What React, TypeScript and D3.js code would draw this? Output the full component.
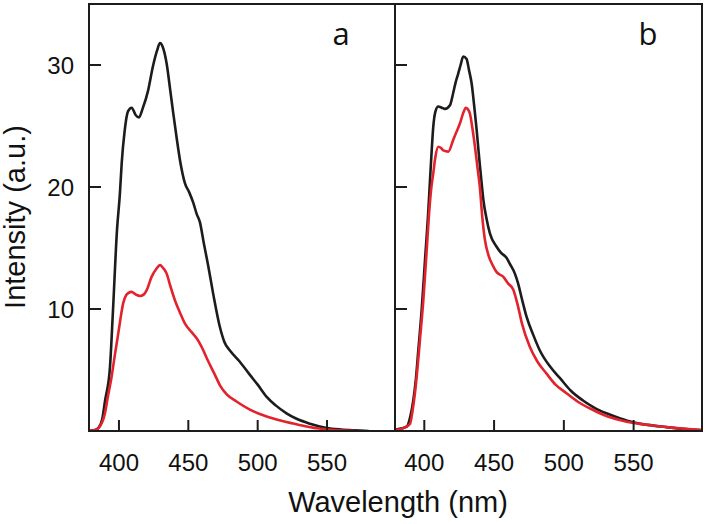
import React from "react";
import * as d3 from "d3";

// Panel a, black curve
const aBlackNm = [378, 382, 385.5, 388, 390, 393.5, 395.7, 398.6, 400.7, 402, 404, 406.5, 409.2, 412, 414.4, 417, 421, 424.5, 427.5, 429.6, 431.5, 434.4, 437, 439.2, 441.5, 444, 447.6, 450.5, 453.6, 456, 458.4, 461, 464.4, 468, 472.8, 476, 480, 487, 494.4, 500, 506.5, 513, 520.8, 528, 537.7, 549.7, 560, 570, 580];
const aBlackVal = [0, 0.05, 0.3, 1.0, 2.5, 5.2, 9.9, 16.5, 19.5, 22, 24.5, 26.2, 26.5, 25.9, 25.7, 26.4, 27.9, 29.9, 31.2, 31.8, 31.5, 30.1, 27.9, 26.0, 24.1, 22.2, 20.3, 19.6, 18.7, 17.8, 17.1, 15.5, 13.5, 11.2, 8.5, 7.3, 6.6, 5.7, 4.6, 3.8, 2.8, 2.1, 1.45, 1.0, 0.6, 0.25, 0.12, 0.05, 0];

// Panel a, red curve
const aRedNm = [378, 382, 385, 389.9, 392, 394.7, 397, 399.5, 401.5, 403.1, 405, 406.7, 409.1, 412, 415.1, 418, 420, 423.6, 427, 429.6, 431.5, 434.4, 437, 440.4, 444, 447.6, 452.4, 456, 459.6, 464, 469.2, 473, 477.7, 485, 494.4, 505, 518.5, 530, 542.5, 555, 571];
const aRedVal = [0, 0.05, 0.2, 1.45, 2.8, 4.45, 6.2, 8.0, 9.5, 10.5, 11.1, 11.3, 11.4, 11.2, 11.07, 11.2, 11.56, 12.65, 13.3, 13.6, 13.4, 12.9, 11.9, 10.7, 9.7, 8.8, 8.1, 7.6, 6.9, 5.8, 4.6, 3.7, 3.0, 2.4, 1.75, 1.25, 0.8, 0.5, 0.22, 0.08, 0];

// Panel b, black curve
const bBlackNm = [379, 383, 387.4, 390, 392.1, 394, 395.7, 398.1, 400.5, 402.9, 404.1, 405.3, 406.4, 408, 410, 412.5, 414.8, 418.4, 420.7, 422.5, 424.3, 426, 427.9, 430.3, 432, 433.9, 435.7, 437.5, 439.3, 441.1, 442.5, 444.6, 447, 451.8, 455, 458.9, 461.3, 464.9, 467.2, 470, 473.2, 478, 482.8, 490, 497.1, 505, 513.7, 522, 530.5, 540, 549.5, 560, 573.4, 585, 599];
const bBlackVal = [0.1, 0.2, 0.35, 1.2, 2.5, 4.3, 6.6, 9.9, 14, 18.1, 20.6, 23, 24.9, 26.2, 26.6, 26.5, 26.4, 26.7, 27.7, 28.6, 29.3, 30.0, 30.7, 30.5, 29.6, 28.5, 26.7, 24.7, 22.4, 20.3, 18.8, 17.4, 16.2, 15.1, 14.6, 14.2, 13.7, 12.9, 12.1, 10.8, 9.4, 7.9, 6.6, 5.3, 4.35, 3.3, 2.5, 1.9, 1.45, 1.05, 0.72, 0.5, 0.32, 0.18, 0.05];

// Panel b, red curve
const bRedNm = [379, 383, 386, 389.8, 391.5, 393.3, 395, 396.9, 399.3, 401.7, 403.6, 404.9, 406.4, 408, 410, 412, 413.6, 417.2, 420.7, 423, 425.5, 428, 429.8, 431, 432.7, 434.5, 436.3, 438, 439.8, 441.5, 443.4, 446, 449.4, 452, 456.5, 460, 463.7, 467.2, 470, 475.6, 481, 487.6, 494, 501.9, 510, 521, 530, 540, 550, 561.5, 575, 587, 599];
const bRedVal = [0.1, 0.15, 0.3, 0.6, 1.6, 3.1, 5.0, 7.5, 10.7, 14.8, 18.1, 19.8, 21.1, 22.5, 23.3, 23.2, 23.0, 22.9, 23.85, 24.5, 25.2, 26.1, 26.5, 26.4, 26.0, 24.8, 23.3, 21.7, 20.0, 17.6, 15.7, 14.4, 13.5, 13.0, 12.65, 12.1, 11.6, 10.2, 8.8, 6.9, 5.7, 4.7, 3.8, 3.1, 2.4, 1.72, 1.25, 0.9, 0.65, 0.48, 0.3, 0.18, 0.08];

const xTicks = [400, 450, 500, 550];
const yTicks = [10, 20, 30];
const panelLabels = ["a", "b"];

const W = 706;
const H = 524;
const TOP = 4;
const BOTTOM = 431;
const FONT = "'Liberation Sans', Arial, Helvetica, sans-serif";
const BLACK = "#1c1c1c";
const RED = "#e3232c";

const y = d3.scaleLinear().domain([0, 35]).range([BOTTOM, TOP]);

type Panel = {
  left: number;
  right: number;
  domain: [number, number];
  black: [number[], number[]];
  red: [number[], number[]];
  label: string;
  showYLabels: boolean;
};

const panels: Panel[] = [
  { left: 89, right: 395, domain: [378.4, 599], black: [aBlackNm, aBlackVal], red: [aRedNm, aRedVal], label: panelLabels[0], showYLabels: true },
  { left: 395, right: 702, domain: [379, 599], black: [bBlackNm, bBlackVal], red: [bRedNm, bRedVal], label: panelLabels[1], showYLabels: false },
];

function PanelView({ p, idx }: { p: Panel; idx: number }) {
  const x = d3.scaleLinear().domain(p.domain).range([p.left, p.right]);
  const line = d3
    .line<[number, number]>()
    .x((d) => x(d[0]))
    .y((d) => y(d[1]))
    .curve(d3.curveMonotoneX);
  const pts = (s: [number[], number[]]) => s[0].map((v, i) => [v, s[1][i]] as [number, number]);
  const clipId = `clip-${idx}`;
  return (
    <g>
      <defs>
        <clipPath id={clipId}>
          <rect x={p.left} y={TOP} width={p.right - p.left} height={BOTTOM - TOP} />
        </clipPath>
      </defs>
      <g clipPath={`url(#${clipId})`}>
        <path d={line(pts(p.black)) || ""} fill="none" stroke={BLACK} strokeWidth={2.6} strokeLinejoin="round" />
        <path d={line(pts(p.red)) || ""} fill="none" stroke={RED} strokeWidth={2.6} strokeLinejoin="round" />
      </g>
      {xTicks.map((t) => (
        <g key={t}>
          <line x1={x(t)} x2={x(t)} y1={BOTTOM} y2={BOTTOM - 11} stroke={BLACK} strokeWidth={2} />
          <text x={x(t)} y={471} textAnchor="middle" fontSize={24} fontFamily={FONT} fill="#111">
            {t}
          </text>
        </g>
      ))}
      {yTicks.map((t) => (
        <g key={t}>
          <line x1={p.left} x2={p.left + 12} y1={y(t)} y2={y(t)} stroke={BLACK} strokeWidth={2} />
          {p.showYLabels && (
            <text x={74} y={y(t) + 8.5} textAnchor="end" fontSize={24} fontFamily={FONT} fill="#111">
              {t}
            </text>
          )}
        </g>
      ))}
      <rect x={p.left} y={TOP} width={p.right - p.left} height={BOTTOM - TOP} fill="none" stroke={BLACK} strokeWidth={2} />
      <text x={p.right - 54} y={45} textAnchor="middle" fontSize={31} fontFamily="'Open Sans', sans-serif" fill="#111">
        {p.label}
      </text>
    </g>
  );
}

export default function App() {
  return (
    <svg width={W} height={H} style={{ position: "absolute", left: 0, top: 0, background: "#fff" }}>
      <rect width={W} height={H} fill="#fff" />
      {panels.map((p, i) => (
        <PanelView key={i} p={p} idx={i} />
      ))}
      <text x={398} y={512} textAnchor="middle" fontSize={29} fontFamily={FONT} fill="#111">
        Wavelength (nm)
      </text>
      <text transform="translate(25,217) rotate(-90)" textAnchor="middle" fontSize={29} fontFamily={FONT} fill="#111">
        Intensity (a.u.)
      </text>
    </svg>
  );
}
